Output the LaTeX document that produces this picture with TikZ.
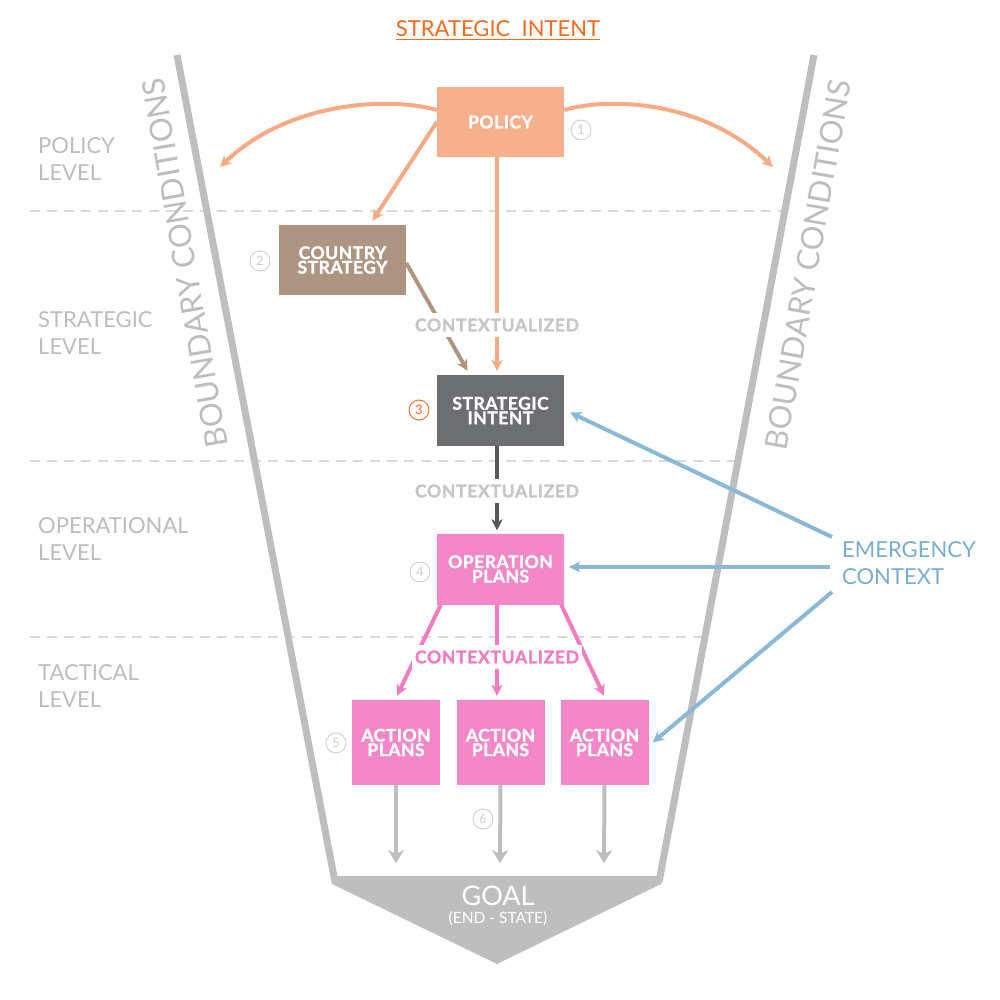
\documentclass[tikz,border=0pt]{standalone}
\usepackage{fontspec}
\setmainfont{Lato}
\usetikzlibrary{arrows.meta,calc}
\definecolor{salmon}{HTML}{F8B08C}
\definecolor{salmonline}{HTML}{F7AA84}
\definecolor{brownbox}{HTML}{AE9582}
\definecolor{darkbox}{HTML}{6D6E71}
\definecolor{darkline}{HTML}{58595B}
\definecolor{pinkbox}{HTML}{F487C7}
\definecolor{pinkline}{HTML}{F27CC0}
\definecolor{ctxgray}{HTML}{C6C6C6}
\definecolor{bluec}{HTML}{8AB9D8}
\definecolor{bluetext}{HTML}{7AAED1}
\definecolor{funnelgray}{HTML}{BEBEBF}
\definecolor{lvlgray}{HTML}{BDBDBD}
\definecolor{dashgray}{HTML}{D9D9D9}
\definecolor{numgray}{HTML}{CFCFCF}
\definecolor{titleorange}{HTML}{F26B21}
\newcommand\myboxfont{\fontsize{17.5}{14.5}\selectfont\bfseries\addfontfeature{LetterSpace=3,FakeBold=1.5}}
\newcommand\myctxfont{\fontsize{17.5}{17.5}\selectfont\bfseries\addfontfeature{LetterSpace=4,FakeBold=1.5}}
\begin{document}
\begin{tikzpicture}[x=1pt,y=-1pt,
  box/.style={text=white, font=\myboxfont, align=center, inner sep=0pt, minimum width=127pt, minimum height=70pt},
  actbox/.style={box, fill=pinkbox, minimum width=88pt, minimum height=85pt},
  lvl/.style={text=lvlgray, font=\fontsize{22}{27}\selectfont, align=left, anchor=west, inner sep=0pt},
  ctx/.style={font=\myctxfont, fill=white, inner xsep=3pt, inner ysep=6pt},
  num/.style={circle, draw=numgray, line width=0.9pt, text=numgray, minimum size=20pt, inner sep=0pt, font=\fontsize{13}{13}\selectfont},
  arr/.style={line width=4pt, -{Stealth[length=11pt,width=11pt,inset=3pt]}},
  garr/.style={line width=4pt, draw=funnelgray, -{Stealth[length=13pt,width=16pt,inset=4pt]}},
  funnel/.style={line width=7pt, draw=funnelgray},
  dashline/.style={line width=1.5pt, draw=dashgray, dash pattern=on 10pt off 7pt},
  bound/.style={text=lvlgray, font=\fontsize{31}{31}\selectfont, inner sep=0pt}
]
\useasboundingbox (0,0) rectangle (1000,1000);
\fill[white] (0,0) rectangle (1000,1000);

% level separators
\draw[dashline] (30,211) -- (784,211);
\draw[dashline] (30,461) -- (737,461);
\draw[dashline] (30,637) -- (704,637);

% funnel
\fill[funnelgray] (332,876) -- (661,876) -- (661,884) -- (497,964) -- (332,884) -- cycle;
\draw[funnel] (177,55) -- (335,882);
\draw[funnel] (814,55) -- (659,882);

% title
\node[anchor=base, text=titleorange, font=\fontsize{22}{22}\selectfont, inner sep=0pt] (title) at (498,37) {STRATEGIC~~INTENT};
\draw[titleorange, line width=1.3pt] ($(title.base west)+(0,2.5)$) -- ($(title.base east)+(0,2.5)$);

% level labels
\node[lvl] (l1) at (38,159.5) {POLICY\\LEVEL};
\node[lvl] (l2) at (38,333) {STRATEGIC\\LEVEL};
\node[lvl] (l3) at (38,539.5) {OPERATIONAL\\LEVEL};
\node[lvl] (l4) at (38,686.5) {TACTICAL\\LEVEL};

% boundary conditions
\node[bound, rotate=100] (bl) at (185,263) {BOUNDARY CONDITIONS};
\node[bound, rotate=80] (br) at (808,265) {BOUNDARY CONDITIONS};

% boxes
\node[box, fill=salmon] (policy) at (500.5,122) {POLICY};
\node[box, fill=brownbox] (country) at (342.5,260) {COUNTRY\\STRATEGY};
\node[box, fill=darkbox, minimum height=71pt] (strat) at (500.5,410.5) {STRATEGIC\\INTENT};
\node[box, fill=pinkbox, minimum height=71pt] (op) at (500.5,569) {OPERATION\\PLANS};
\node[actbox] (a1) at (396,742.5) {ACTION\\PLANS};
\node[actbox] (a2) at (500.5,742.5) {ACTION\\PLANS};
\node[actbox] (a3) at (604.5,742.5) {ACTION\\PLANS};

% numbers
\node[num] (n1) at (581,130) {1};
\node[num] (n2) at (260,261) {2};
\node[num, draw=titleorange, text=titleorange] (n3) at (419,410) {3};
\node[num] (n4) at (420,572) {4};
\node[num] (n5) at (336,743) {5};
\node[num] (n6) at (483,819) {6};

% emergency context
\node[anchor=west, text=bluetext, font=\fontsize{22}{27}\selectfont, align=left, inner sep=0pt] (emerg) at (842,563) {EMERGENCY\\CONTEXT};

% free ends
\coordinate (lt) at (220,167);
\coordinate (rt) at (773,167);
\coordinate (g1) at (396,863);
\coordinate (g2) at (500,863);
\coordinate (g3) at (604,863);

% policy arrows
\draw[arr, draw=salmonline] ($(policy.west)+(0,-12)$) .. controls (392,97) and (290,100) .. (lt);
\draw[arr, draw=salmonline] ($(policy.east)+(0,-12)$) .. controls (609,97) and (703,100) .. (rt);
\draw[arr, draw=salmonline] (policy.west) -- ($(country.north)+(30,-4)$);
\draw[arr, draw=salmonline] ($(policy.south)+(-3.5,0)$) -- ($(strat.north)+(-3.5,-4)$);
\draw[arr, draw=brownbox] ($(country.east)+(0,3)$) -- ($(strat.north)+(-33,-4)$);

% strategic intent to operation
\draw[arr, draw=darkline] ($(strat.south)+(-3.5,0)$) -- ($(op.north)+(-3.5,-3)$);

% operation to action
\draw[arr, draw=pinkline] ($(op.south west)+(4,0)$) -- ($(a1.north)+(1,-4)$);
\draw[arr, draw=pinkline] ($(op.south)+(-3.5,0)$) -- ($(a2.north)+(-3.5,-4)$);
\draw[arr, draw=pinkline] ($(op.south east)+(-3,0)$) -- ($(a3.north)+(-0.5,-4)$);

% action to goal
\draw[garr] (a1.south) -- (g1);
\draw[garr] (a2.south) -- (g2);
\draw[garr] (a3.south) -- (g3);

% emergency arrows
\draw[arr, draw=bluec] ($(emerg.west)+(-10,-26)$) -- ($(strat.east)+(6,2)$);
\draw[arr, draw=bluec] ($(emerg.west)+(-12,4)$) -- ($(op.east)+(5,-2)$);
\draw[arr, draw=bluec] ($(emerg.west)+(-10,29)$) -- ($(a3.east)+(4,0)$);

% contextualized labels
\node[ctx, text=ctxgray] (c1) at (497,325) {CONTEXTUALIZED};
\node[ctx, text=ctxgray] (c2) at (497,491) {CONTEXTUALIZED};
\node[ctx, text=pinkline] (c3) at (497,657) {CONTEXTUALIZED};

% goal
\node[text=white, font=\fontsize{27}{27}\selectfont, inner sep=0pt] (goal) at (498,896) {GOAL};
\node[text=white, font=\fontsize{15.5}{15.5}\selectfont, inner sep=0pt] (endstate) at (498,919) {(END - STATE)};
\end{tikzpicture}
\end{document}
